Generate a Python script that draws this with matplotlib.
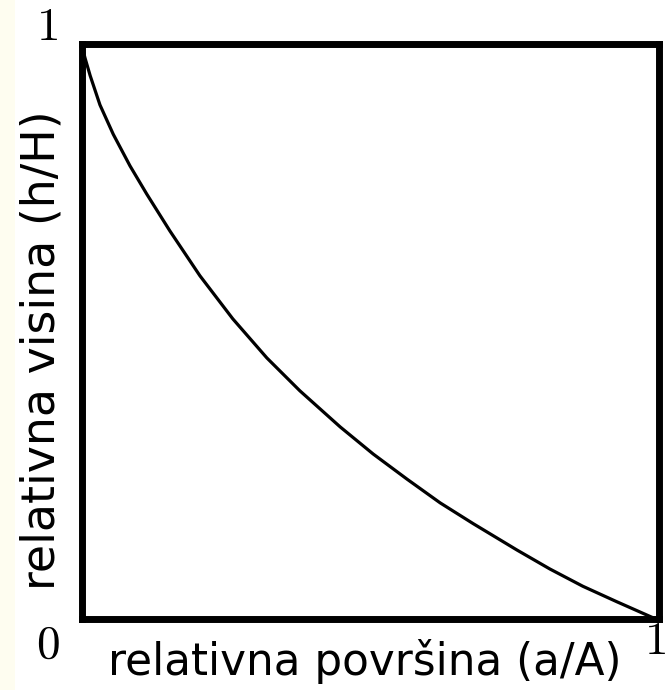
import matplotlib
matplotlib.use("Agg")
import matplotlib.pyplot as plt
from matplotlib.patches import Rectangle

# Data (relative area vs relative height)
rel_area = [0.0, 0.006, 0.015, 0.032, 0.055, 0.084, 0.113, 0.153, 0.205, 0.262,
            0.321, 0.378, 0.448, 0.505, 0.564, 0.621, 0.678, 0.754, 0.811, 0.868,
            0.927, 0.990, 1.0]
rel_height = [1.0, 0.976, 0.945, 0.894, 0.843, 0.788, 0.739, 0.675, 0.597, 0.522,
              0.454, 0.397, 0.334, 0.287, 0.243, 0.202, 0.166, 0.120, 0.087, 0.057,
              0.030, 0.002, 0.0]

corner_labels = ["0", "1", "1"]
xlabel = "relativna površina (a/A)"
ylabel = "relativna visina (h/H)"

plt.rcParams['mathtext.fontset'] = 'cm'

fig = plt.figure(figsize=(6.65, 6.9), dpi=100)
fig.patch.set_facecolor("white")
fig.patches.append(Rectangle((0, 0), 15 / 665, 1, transform=fig.transFigure,
                             facecolor="#fefdf0", edgecolor="none", zorder=0))

ax = fig.add_axes([81.5 / 665, 71 / 690, 577.5 / 665, 575 / 690])
ax.plot(rel_area, rel_height, color="black", lw=2.3,
        solid_joinstyle="round", solid_capstyle="round")
ax.set_xlim(0, 1)
ax.set_ylim(0, 1)
ax.set_xticks([])
ax.set_yticks([])
for sp in ax.spines.values():
    sp.set_linewidth(5.0)
    sp.set_color("black")

tick_kw = dict(fontsize=34, color="black", ha="center", va="center",
               annotation_clip=False)
ax.annotate(r"$" + corner_labels[0] + "$", xy=(0, 0), xycoords="data",
            xytext=(-24, -19), textcoords="offset points", **tick_kw)
ax.annotate(r"$" + corner_labels[1] + "$", xy=(0, 1), xycoords="data",
            xytext=(-25, 12), textcoords="offset points", **tick_kw)
ax.annotate(r"$" + corner_labels[2] + "$", xy=(1, 0), xycoords="data",
            xytext=(-3, -16), textcoords="offset points", **tick_kw)

fig.text(365 / 665, 1 - 661 / 690, xlabel, fontsize=31.5, ha="center", va="center",
         family="DejaVu Sans")
fig.text(42 / 665, 1 - 350 / 690, ylabel, fontsize=33, ha="center", va="center",
         rotation=90, family="DejaVu Sans")

fig.savefig("out.png", dpi=100)
